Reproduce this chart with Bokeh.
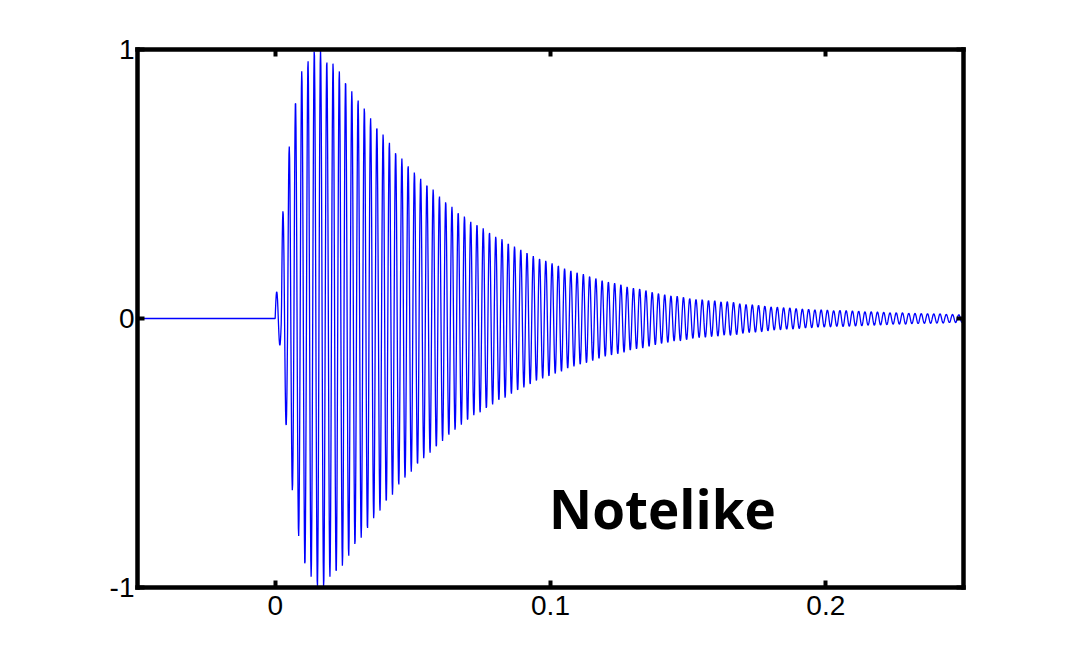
import numpy as np
from bokeh.plotting import figure
from bokeh.models import Range1d, LinearAxis, FixedTicker, Label, ColumnDataSource
from bokeh.embed import file_html
from bokeh.resources import INLINE

# ---- data ----
NOTE_FREQ_HZ = 440.0          # carrier of the note (one cycle ~ 6.2 px)
SAMPLE_RATE = 8192            # samples per second
ONSET_TIME = 0.0
START_TIME = -0.05
END_TIME = 0.25

# peak amplitude of each cycle after onset (cycle 0 .. 109)
CYCLE_PEAKS = [
    0.10, 0.40, 0.64, 0.81, 0.92, 0.96, 1.00, 1.00, 0.96, 0.95,
    0.92, 0.885, 0.845, 0.815, 0.785, 0.745, 0.715, 0.685, 0.655, 0.62,
    0.595, 0.57, 0.545, 0.52, 0.50, 0.48, 0.455, 0.435, 0.415, 0.395,
    0.38, 0.36, 0.35, 0.335, 0.32, 0.305, 0.295, 0.28, 0.268, 0.256,
    0.245, 0.232, 0.223, 0.215, 0.205, 0.197, 0.186, 0.178, 0.171, 0.165,
    0.157, 0.149, 0.141, 0.136, 0.132, 0.126, 0.118, 0.113, 0.11, 0.104,
    0.098, 0.093, 0.089, 0.084, 0.083, 0.079, 0.074, 0.071, 0.07, 0.067,
    0.066, 0.062, 0.063, 0.06, 0.055, 0.052, 0.051, 0.049, 0.046, 0.043,
    0.042, 0.04, 0.039, 0.037, 0.035, 0.034, 0.032, 0.032, 0.031, 0.029,
    0.03, 0.029, 0.028, 0.027, 0.025, 0.025, 0.024, 0.023, 0.021, 0.021,
    0.021, 0.019, 0.019, 0.018, 0.018, 0.017, 0.017, 0.015, 0.015, 0.014,
]

X_TICKS = [0, 0.1, 0.2]
X_TICK_LABELS = ["0", "0.1", "0.2"]
Y_TICKS = [-1, 0, 1]
Y_TICK_LABELS = ["-1", "0", "1"]
TITLE_TEXT = "Notelike"

# ---- build the sampled signal ----
n0 = int(round(START_TIME * SAMPLE_RATE))
n1 = int(round(END_TIME * SAMPLE_RATE))
t = np.arange(n0, n1 + 1) / SAMPLE_RATE
peaks = np.array(CYCLE_PEAKS)
cyc = np.clip(np.floor((t - ONSET_TIME) * NOTE_FREQ_HZ).astype(int), 0, len(peaks) - 1)
sig = np.where(t >= ONSET_TIME,
               peaks[cyc] * np.sin(2 * np.pi * NOTE_FREQ_HZ * (t - ONSET_TIME)), 0.0)
src = ColumnDataSource(dict(t=t, y=sig))

W, H = 1048, 648
p = figure(width=W, height=H, output_backend="svg", toolbar_location=None,
           x_range=Range1d(START_TIME, END_TIME), y_range=Range1d(-1, 1),
           min_border_left=137, min_border_right=85, min_border_top=49, min_border_bottom=61,
           x_axis_location=None, y_axis_location=None)
p.outline_line_color = None
p.background_fill_color = "white"
p.border_fill_color = "white"
p.xgrid.visible = False
p.ygrid.visible = False

p.line("t", "y", source=src, line_color="#0000ff", line_width=1.3)

FONT = "Liberation Sans"
x_over = {float(v): s for v, s in zip(X_TICKS, X_TICK_LABELS)}
y_over = {float(v): s for v, s in zip(Y_TICKS, Y_TICK_LABELS)}


def style(ax, labels):
    ax.axis_line_width = 4.5
    ax.axis_line_color = "black"
    ax.axis_line_cap = "square"
    ax.major_tick_in = 7
    ax.major_tick_out = 0
    ax.major_tick_line_width = 4
    ax.major_tick_line_color = "black"
    ax.minor_tick_line_color = None
    ax.major_label_text_font = FONT
    ax.major_label_text_font_size = "28px"
    ax.major_label_text_color = "black"
    if not labels:
        ax.major_label_text_font_size = "0px"
        ax.major_label_text_color = None


xb = LinearAxis(ticker=FixedTicker(ticks=X_TICKS), major_label_overrides=x_over)
style(xb, True)
xb.major_label_standoff = 8
p.add_layout(xb, "below")

yl = LinearAxis(ticker=FixedTicker(ticks=Y_TICKS), major_label_overrides=y_over)
style(yl, True)
yl.major_label_standoff = 3
yl.major_label_orientation = "horizontal"
p.add_layout(yl, "left")

xt = LinearAxis(ticker=FixedTicker(ticks=X_TICKS), major_label_overrides={float(v): "" for v in X_TICKS})
style(xt, False)
p.add_layout(xt, "above")

yr = LinearAxis(ticker=FixedTicker(ticks=Y_TICKS), major_label_overrides={float(v): "" for v in Y_TICKS})
style(yr, False)
p.add_layout(yr, "right")

p.add_layout(Label(x=0.0995, y=-0.706, text=TITLE_TEXT, text_font="Open Sans",
                   text_font_style="bold", text_font_size="53px", text_color="black",
                   text_baseline="alphabetic", text_align="left"))

open("out.html", "w").write(file_html(p, INLINE))
